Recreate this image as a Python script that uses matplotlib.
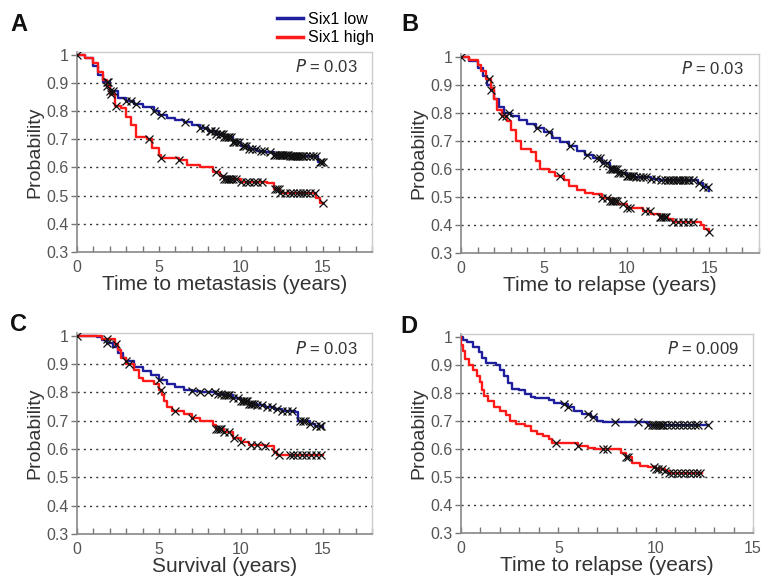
import numpy as np
import matplotlib
matplotlib.use("Agg")
import matplotlib.pyplot as plt

plt.rcParams['font.family'] = ['Liberation Sans', 'DejaVu Sans']

BLUE = '#1f1f9e'
RED = '#ff1a1a'

# ---- Panel A: time to metastasis ----
a_low_t = [0, 0.5, 1.0, 1.3, 1.6, 2.0, 2.5, 3.0, 3.5, 4.0, 4.7, 5.0, 5.5, 6.0, 6.5, 7.0,
           7.5, 8.0, 8.5, 9.0, 9.5, 10.0, 10.5, 11.0, 11.5, 12.0, 13.0, 14.7, 15.0]
a_low_s = [1.0, 0.99, 0.96, 0.93, 0.905, 0.87, 0.845, 0.835, 0.825, 0.815, 0.80, 0.785, 0.775,
           0.77, 0.76, 0.75, 0.74, 0.73, 0.72, 0.71, 0.69, 0.675, 0.665, 0.66, 0.655, 0.645,
           0.64, 0.62, 0.62]
a_high_t = [0, 0.5, 1.0, 1.3, 1.6, 1.8, 2.0, 2.3, 2.7, 3.0, 3.3, 3.6, 4.3, 4.6, 5.0, 5.1,
            6.2, 6.7, 7.5, 8.3, 8.7, 9.0, 10.0, 11.6, 12.0, 12.4, 14.6, 14.8, 15.0]
a_high_s = [1.0, 0.99, 0.97, 0.94, 0.91, 0.89, 0.86, 0.82, 0.81, 0.78, 0.75, 0.71, 0.70, 0.67,
            0.645, 0.635, 0.625, 0.61, 0.60, 0.585, 0.57, 0.56, 0.55, 0.545, 0.525, 0.51,
            0.49, 0.475, 0.475]
a_low_c = [0, 1.8, 1.9, 2.0, 2.2, 3.0, 3.3, 3.6, 4.7, 5.1, 6.6, 7.5, 7.8, 8.1, 8.2, 8.4, 8.5,
           8.7, 8.8, 8.9, 9.0, 9.1, 9.2, 9.3, 9.4, 9.5, 9.6, 9.7, 9.9, 10.1, 10.2, 10.3, 10.5,
           10.7, 10.9, 11.2, 11.4, 11.8, 12.0, 12.1, 12.2, 12.3, 12.4, 12.5, 12.6, 12.7, 12.8,
           12.9, 13.0, 13.1, 13.2, 13.3, 13.4, 13.5, 13.6, 13.7, 13.8, 14.0, 14.2, 14.4, 14.6,
           14.8, 14.9, 15.0]
a_high_c = [1.8, 2.1, 2.4, 4.4, 5.1, 6.2, 8.5, 8.9, 9.0, 9.1, 9.2, 9.3, 9.4, 9.5, 9.7, 10.0,
            10.3, 10.5, 10.8, 11.0, 11.3, 12.1, 12.2, 12.3, 12.4, 12.7, 13.0, 13.2, 13.4, 13.6,
            13.8, 14.0, 14.2, 14.5, 15.0]

# ---- Panel B: time to relapse ----
b_low_t = [0, 0.5, 1.0, 1.3, 1.6, 1.8, 2.0, 2.3, 2.6, 3.0, 3.5, 4.0, 4.5, 5.0, 5.5, 6.0, 6.5,
           7.0, 7.5, 8.0, 8.5, 9.0, 9.5, 10.0, 10.5, 11.5, 12.0, 14.3, 14.6, 15.0]
b_low_s = [1.0, 0.985, 0.96, 0.93, 0.90, 0.88, 0.85, 0.82, 0.80, 0.79, 0.775, 0.76, 0.745,
           0.73, 0.71, 0.695, 0.68, 0.665, 0.65, 0.64, 0.62, 0.60, 0.585, 0.575, 0.57, 0.565,
           0.56, 0.55, 0.535, 0.52]
b_high_t = [0, 0.5, 1.0, 1.2, 1.5, 1.8, 2.0, 2.2, 2.5, 2.8, 3.0, 3.3, 3.6, 4.2, 4.5, 4.8, 5.3,
            5.7, 6.2, 6.5, 7.0, 7.5, 8.0, 8.5, 9.0, 9.5, 10.0, 11.0, 11.5, 12.0, 12.5, 12.8,
            14.5, 14.7, 15.0]
b_high_s = [1.0, 0.99, 0.97, 0.95, 0.92, 0.89, 0.85, 0.81, 0.79, 0.77, 0.74, 0.70, 0.67, 0.66,
            0.63, 0.60, 0.59, 0.575, 0.56, 0.54, 0.525, 0.515, 0.51, 0.495, 0.485, 0.475,
            0.46, 0.45, 0.44, 0.43, 0.42, 0.41, 0.40, 0.385, 0.375]
b_low_c = [0, 1.8, 2.9, 4.6, 5.3, 6.6, 7.6, 8.2, 8.4, 8.6, 8.8, 9.0, 9.1, 9.2, 9.3, 9.4, 9.5,
           9.6, 9.8, 10.0, 10.1, 10.2, 10.3, 10.4, 10.6, 10.8, 11.0, 11.2, 11.5, 11.8, 12.1,
           12.3, 12.5, 12.6, 12.8, 13.0, 13.1, 13.2, 13.4, 13.5, 13.7, 13.8, 14.0, 14.4, 14.6,
           14.9]
b_high_c = [1.7, 2.5, 2.7, 6.0, 8.5, 8.8, 9.0, 9.1, 9.2, 9.3, 9.4, 9.8, 10.0, 10.2, 11.1, 11.4,
            12.0, 12.1, 12.2, 12.3, 12.4, 12.8, 13.1, 13.4, 13.7, 14.0, 15.0]

# ---- Panel C: survival ----
c_low_t = [0, 1.0, 1.2, 1.5, 1.8, 2.2, 2.5, 2.8, 3.0, 3.5, 4.0, 4.5, 5.0, 5.5, 6.0, 6.5, 7.0,
           7.5, 8.5, 9.0, 9.5, 10.0, 10.5, 11.0, 11.5, 12.0, 12.5, 13.3, 13.5, 14.2, 14.5, 15.0]
c_low_s = [1.0, 1.0, 0.995, 0.985, 0.975, 0.96, 0.94, 0.92, 0.91, 0.89, 0.875, 0.86, 0.845,
           0.83, 0.82, 0.81, 0.805, 0.80, 0.795, 0.79, 0.78, 0.77, 0.76, 0.755, 0.75, 0.74,
           0.735, 0.73, 0.70, 0.69, 0.68, 0.675]
c_high_t = [0, 1.0, 1.5, 2.3, 2.5, 2.7, 3.0, 3.5, 3.8, 4.0, 4.7, 5.0, 5.2, 5.3, 5.5, 5.8, 6.5,
            7.0, 7.5, 8.3, 8.5, 9.0, 9.5, 10.0, 10.5, 11.5, 12.0, 12.2, 15.0]
c_high_s = [1.0, 1.0, 0.99, 0.97, 0.95, 0.92, 0.90, 0.88, 0.85, 0.84, 0.83, 0.81, 0.79, 0.77,
            0.75, 0.735, 0.725, 0.71, 0.70, 0.685, 0.67, 0.66, 0.64, 0.625, 0.615, 0.61, 0.59,
            0.58, 0.58]
c_low_c = [0, 1.8, 3.0, 5.0, 7.0, 7.5, 8.0, 8.4, 8.6, 8.8, 9.0, 9.1, 9.2, 9.3, 9.5, 9.8, 10.0,
           10.1, 10.2, 10.3, 10.4, 10.5, 10.6, 10.7, 10.8, 11.0, 11.3, 11.6, 11.9, 12.2, 12.5,
           12.8, 13.1, 13.6, 13.8, 13.9, 14.2, 14.6, 14.8, 14.9]
c_high_c = [1.8, 2.4, 3.2, 5.1, 6.0, 7.0, 8.5, 8.6, 8.7, 8.8, 9.0, 9.3, 9.6, 10.0, 10.6, 11.0,
            11.5, 12.1, 12.3, 13.0, 13.2, 13.4, 13.7, 14.0, 14.3, 14.6, 14.9]

# ---- Panel D: time to relapse ----
d_low_t = [0, 0.1, 0.3, 0.6, 0.9, 1.1, 1.3, 1.8, 2.0, 2.2, 2.4, 2.6, 3.0, 3.3, 3.6, 3.8, 4.5,
           4.8, 5.2, 5.5, 5.8, 6.2, 6.7, 7.0, 7.3, 9.6, 12.7]
d_low_s = [1.0, 0.99, 0.98, 0.965, 0.945, 0.925, 0.905, 0.90, 0.88, 0.86, 0.835, 0.815, 0.81,
           0.795, 0.785, 0.78, 0.775, 0.765, 0.76, 0.75, 0.735, 0.725, 0.715, 0.70, 0.695,
           0.685, 0.685]
d_high_t = [0, 0.02, 0.1, 0.2, 0.4, 0.6, 0.8, 1.0, 1.1, 1.2, 1.4, 1.7, 2.0, 2.3, 2.5, 2.8, 3.3,
            3.6, 3.9, 4.2, 4.5, 4.7, 6.0, 6.5, 6.9, 8.2, 8.5, 8.8, 9.2, 9.6, 10.0, 10.5, 10.7,
            12.4]
d_high_s = [1.0, 0.97, 0.95, 0.92, 0.90, 0.88, 0.86, 0.84, 0.81, 0.79, 0.77, 0.75, 0.735, 0.72,
            0.70, 0.69, 0.68, 0.665, 0.655, 0.645, 0.635, 0.62, 0.61, 0.605, 0.60, 0.585, 0.57,
            0.55, 0.54, 0.535, 0.53, 0.52, 0.515, 0.515]
d_low_c = [5.3, 5.5, 6.5, 6.8, 7.9, 9.1, 9.6, 9.8, 9.9, 10.0, 10.1, 10.2, 10.3, 10.4, 10.6,
           10.8, 11.0, 11.2, 11.4, 11.6, 11.8, 12.0, 12.2, 12.7]
d_high_c = [4.9, 6.0, 7.3, 7.5, 8.5, 8.6, 9.9, 10.0, 10.1, 10.3, 10.5, 10.7, 10.9, 11.1, 11.3,
            11.5, 11.7, 11.9, 12.1, 12.3]

panels = [
    dict(letter='A', xlabel='Time to metastasis (years)', p='0.03', xmax=18,
         low=(a_low_t, a_low_s, a_low_c), high=(a_high_t, a_high_s, a_high_c)),
    dict(letter='B', xlabel='Time to relapse (years)', p='0.03', xmax=18,
         low=(b_low_t, b_low_s, b_low_c), high=(b_high_t, b_high_s, b_high_c)),
    dict(letter='C', xlabel='Survival (years)', p='0.03', xmax=18,
         low=(c_low_t, c_low_s, c_low_c), high=(c_high_t, c_high_s, c_high_c)),
    dict(letter='D', xlabel='Time to relapse (years)', p='0.009', xmax=15,
         low=(d_low_t, d_low_s, d_low_c), high=(d_high_t, d_high_s, d_high_c)),
]

W, H = 764, 583
fig = plt.figure(figsize=(W / 100, H / 100), dpi=100)

# axes boxes in pixels: left, top, right, bottom
boxes = [(77, 52, 372, 252), (461, 54, 759, 253), (77, 333, 372, 534), (461, 334, 753, 533)]
letter_pos = [(10, 31), (401, 31), (10, 331), (400, 333)]


def step_at(t, s, c):
    idx = np.searchsorted(np.asarray(t), np.asarray(c), side='right') - 1
    return np.asarray(s)[idx]


lines = []
for pnl, (l, t, r, b), (lx, ly) in zip(panels, boxes, letter_pos):
    ax = fig.add_axes([l / W, (H - b) / H, (r - l) / W, (b - t) / H])
    for key, col in (('low', BLUE), ('high', RED)):
        tt, ss, cc = pnl[key]
        ln, = ax.plot(tt, ss, drawstyle='steps-post', color=col, lw=1.7, zorder=3)
        lines.append(ln)
        ax.plot(cc, step_at(tt, ss, cc), ls='none', marker='x', color='#111111',
                ms=6, mew=0.9, zorder=4)
    ax.set_xlim(0, pnl['xmax'])
    ax.set_ylim(0.3, 1.01)
    ax.set_xticks(range(0, pnl['xmax'] + 1, 5))
    ax.set_xticks(range(0, pnl['xmax'] + 1), minor=True)
    ax.set_yticks([0.3, 0.4, 0.5, 0.6, 0.7, 0.8, 0.9, 1.0])
    ax.set_yticklabels(['0.3', '0.4', '0.5', '0.6', '0.7', '0.8', '0.9', '1'])
    for g in [0.4, 0.5, 0.6, 0.7, 0.8, 0.9]:
        ax.axhline(g, color='#333333', lw=1, ls=(0, (1.5, 3)), zorder=1)
    ax.tick_params(axis='x', which='both', direction='in', length=4, width=1,
                   color='#777777', labelsize=11.5, labelcolor='#555555', pad=6)
    ax.tick_params(axis='y', direction='out', length=4, width=1, color='#777777',
                   labelsize=11.5, labelcolor='#555555', pad=2)
    for side in ('left', 'bottom'):
        ax.spines[side].set_color('#888888')
        ax.spines[side].set_linewidth(1.2)
    for side in ('top', 'right'):
        ax.spines[side].set_color('#cccccc')
        ax.spines[side].set_linewidth(1)
    ax.set_xlabel(pnl['xlabel'], fontsize=15, color='#333333', labelpad=0)
    ax.set_ylabel('Probability', fontsize=14, color='#333333', labelpad=2)
    ax.text(0.95, 0.925, r'$\it{P}$ = ' + pnl['p'], transform=ax.transAxes,
            ha='right', va='center', fontsize=12, color='#333333')
    fig.text(lx / W, (H - ly) / H, pnl['letter'], fontsize=17, fontweight='bold',
             ha='left', va='baseline', color='#111111')

fig.legend(lines[:2], ['Six1 low', 'Six1 high'], loc='upper left',
           bbox_to_anchor=(277 / W, (H - 12) / H), frameon=False, fontsize=11.5,
           handlelength=1.6, handletextpad=0.35, labelspacing=0.2,
           borderpad=0, borderaxespad=0)
for ln in fig.legends[0].get_lines():
    ln.set_linewidth(2.5)

fig.savefig('out.png', dpi=100)
